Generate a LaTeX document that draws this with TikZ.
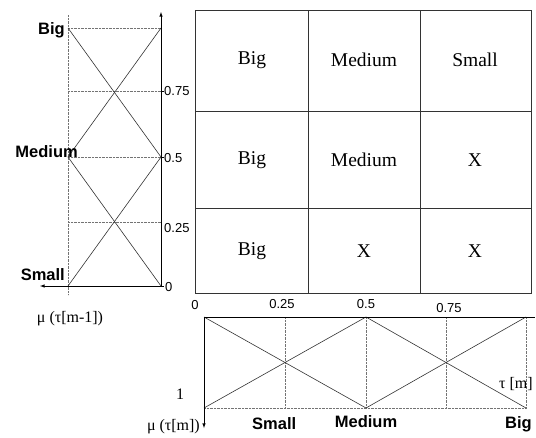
\documentclass[tikz,border=0pt]{standalone}
\usepackage{fontspec}
\setmainfont{Liberation Serif}
\newfontfamily\labfont{Liberation Sans}
\usepackage{tikz}
\tikzset{>=latex}
\usepackage{xcolor}
\colorlet{linecol}{black!80}
\colorlet{dotcol}{black!55}
\tikzset{
    setlab/.style={font=\labfont\bfseries\fontsize{16.5}{18}\selectfont, inner sep=0pt},
    tick/.style={font=\labfont\fontsize{13}{14}\selectfont, inner sep=0pt},
    cell/.style={font=\fontsize{19.5}{21}\selectfont},
    axlab/.style={font=\fontsize{16}{18}\selectfont, inner sep=0pt},
    grid/.style={dotcol, densely dotted},
    mf/.style={linecol, line width=0.6pt}
}

\begin{document}
\begin{tikzpicture}[x=1pt, y=-1pt]
    \useasboundingbox (0, 0) rectangle (536, 437);

    % membership functions of tau[m-1]
    \begin{scope}
        \draw[grid] (68, 15) -- (68, 295);
        \draw[grid] (68, 28) -- (161, 28);
        \draw[grid] (68, 91) -- (161, 91);
        \draw[grid] (68, 157) -- (161, 157);
        \draw[grid] (68, 222) -- (161, 222);
        \draw[mf] (68, 28) -- (161, 157) -- (68, 286);
        \draw[mf] (161, 28) -- (68, 157) -- (161, 286);
        \draw[semithick, ->] (161, 286) -- (161, 12);
        \draw[semithick, ->] (161, 286) -- (40, 286);
        \draw (161, 91) -- (164, 91);
        \draw (161, 157) -- (164, 157);
        \draw (161, 286) -- (164, 286);
        \node[tick, anchor=west] (l75) at (164, 91) {0.75};
        \node[tick, anchor=west] (l50) at (164, 158) {0.5};
        \node[tick, anchor=west] (l25) at (164, 228) {0.25};
        \node[tick, anchor=west] (l0) at (165, 287) {0};
        \node[setlab, anchor=base east] (lbig) at (65, 34.5) {Big};
        \node[setlab, anchor=base east] (lmed) at (78, 157) {Medium};
        \node[setlab, anchor=base east] (lsmall) at (65, 280) {Small};
        \node[axlab] (lmu) at (70, 319) {μ (τ[m-1])};
    \end{scope}

    % rule table
    \begin{scope}
        \draw[linecol] (195, 10) rectangle (531, 293);
        \draw[linecol] (308, 10) -- (308, 293);
        \draw[linecol] (420, 10) -- (420, 293);
        \draw[linecol] (195, 111) -- (531, 111);
        \draw[linecol] (195, 208) -- (531, 208);
        \node[cell] (c11) at (252, 60) {Big};
        \node[cell] (c12) at (364, 60) {Medium};
        \node[cell] (c13) at (475, 60) {Small};
        \node[cell] (c21) at (252, 160) {Big};
        \node[cell] (c22) at (364, 160) {Medium};
        \node[cell] (c23) at (475, 160) {X};
        \node[cell] (c31) at (252, 251) {Big};
        \node[cell] (c32) at (364, 251) {X};
        \node[cell] (c33) at (475, 251) {X};
    \end{scope}

    % membership functions of tau[m]
    \begin{scope}
        \draw[grid] (204, 408) -- (527, 408);
        \draw[grid] (285, 317) -- (285, 408);
        \draw[grid] (366, 317) -- (366, 408);
        \draw[grid] (446, 317) -- (446, 408);
        \draw[grid] (526, 317) -- (526, 408);
        \draw[mf] (204, 408) -- (366, 317) -- (526, 408);
        \draw[mf] (204, 317) -- (366, 408) -- (526, 317);
        \draw[semithick] (204, 317) -- (535, 317);
        \draw[semithick, ->] (204, 317) -- (204, 428);
        \node[tick] (b0) at (195, 305) {0};
        \node[tick] (b25) at (282, 304) {0.25};
        \node[tick] (b50) at (366, 304) {0.5};
        \node[tick] (b75) at (449, 308) {0.75};
        \node[axlab] (b1) at (180, 394) {1};
        \node[axlab] (btau) at (516, 384) {τ [m]};
        \node[axlab, anchor=east] (bmu) at (200, 427) {μ (τ[m])};
        \node[setlab, anchor=base west] (bsmall) at (252, 429) {Small};
        \node[setlab, anchor=base] (bmed) at (366, 427) {Medium};
        \node[setlab, anchor=base east] (bbig) at (532, 428) {Big};
    \end{scope}

\end{tikzpicture}
\end{document}
